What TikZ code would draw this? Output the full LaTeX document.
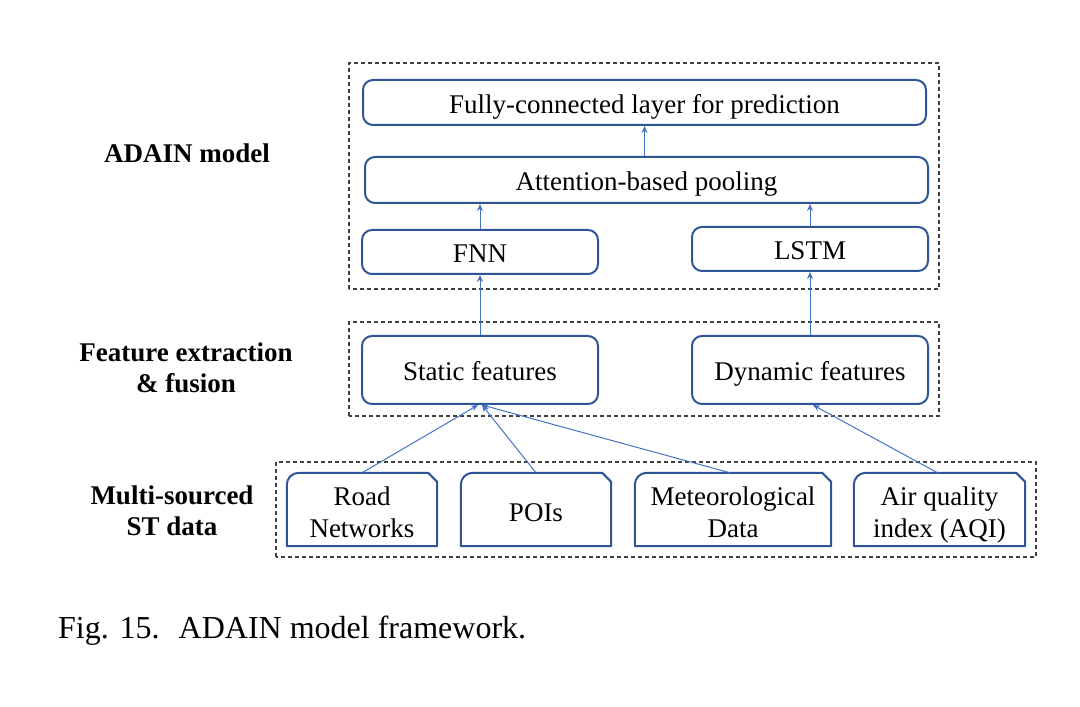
\documentclass[tikz,border=0pt]{standalone}
\usepackage{fontspec}
\setmainfont{Liberation Serif}
\usetikzlibrary{positioning,calc,arrows.meta}
\definecolor{boxblue}{RGB}{47,85,151}
\definecolor{arrblue}{RGB}{68,114,196}
\tikzset{blk/.style={draw=boxblue, line width=2pt, rounded corners=10pt, inner sep=2pt, text height=23pt, text depth=1.6pt, font=\fontsize{27}{31}\selectfont}}
\tikzset{datab/.style={inner sep=2pt, align=center, yshift=-3pt, text depth=0pt, font=\fontsize{27}{32}\selectfont}}
\tikzset{dataline/.style={draw=boxblue, line width=2pt, line join=round}}
\tikzset{frame/.style={draw=black!75, line width=1.1pt, dash pattern=on 4pt off 3pt}}
\tikzset{lab/.style={align=center, font=\bfseries\fontsize{27}{31}\selectfont}}
\tikzset{arr/.style={draw=arrblue, line width=1pt, -{Stealth[length=7pt,width=6pt]}}}
\begin{document}
\begin{tikzpicture}[x=1pt,y=1pt]
\useasboundingbox (0,0) rectangle (1080,707);
\draw[frame] (349,418) rectangle (939,644);
\draw[frame] (349,291) rectangle (939,385);
\draw[frame] (276,150) rectangle (1036,245);
\node[blk, minimum width=563pt, minimum height=45pt] (fc) at (644.5,604.5) {Fully-connected layer for prediction};
\node[blk, minimum width=563pt, minimum height=46pt] (att) at (646.5,527) {Attention-based pooling};
\node[blk, minimum width=236pt, minimum height=44pt] (fnn) at (480,455) {FNN};
\node[blk, minimum width=236pt, minimum height=44pt] (lstm) at (810,458) {LSTM};
\node[blk, minimum width=236pt, minimum height=68pt] (static) at (480,337) {Static features};
\node[blk, minimum width=236pt, minimum height=68pt] (dyn) at (810,337) {Dynamic features};
\node[datab, minimum width=150pt, minimum height=73pt] (road) at (362,197.5) {Road\\Networks};
\node[datab, minimum width=150pt, minimum height=73pt] (poi) at (536,197.5) {POIs};
\node[datab, minimum width=196pt, minimum height=73pt] (met) at (733,197.5) {Meteorological\\Data};
\node[datab, minimum width=171pt, minimum height=73pt] (aqi) at (939.5,197.5) {Air quality\\index (AQI)};
\foreach \n in {road,poi,met,aqi}
  \draw[dataline] ([yshift=3pt]\n.south west) -- ([yshift=-9pt]\n.north west)
    arc[start angle=180, end angle=90, radius=12pt]
    -- ([xshift=-9pt,yshift=3pt]\n.north east) -- ([yshift=-6pt]\n.north east)
    -- ([yshift=3pt]\n.south east) -- cycle;
\node[lab] (lmodel) at (187,554) {ADAIN model};
\node[lab] (lfeat) at (186,339.5) {Feature extraction\\\& fusion};
\node[lab] (ldata) at (172,196.5) {Multi-sourced\\ST data};
\node[anchor=base west, inner sep=0pt, font=\fontsize{32}{36}\selectfont] (cap) at (58,68) {Fig. 15.\hspace{0.6em}ADAIN model framework.};
\draw[arr] (fc.south |- att.north) -- (fc.south);
\draw[arr] (fnn.north) -- (fnn.north |- att.south);
\draw[arr] (lstm.north) -- (lstm.north |- att.south);
\draw[arr] (static.north) -- (fnn.south);
\draw[arr] (dyn.north) -- (lstm.south);
\draw[arr] ([yshift=3pt]road.north) -- ([xshift=-2pt]static.south);
\draw[arr] ([yshift=3pt]poi.north) -- ([xshift=2pt]static.south);
\draw[arr] ([xshift=-3pt,yshift=3pt]met.north) -- ([xshift=2pt]static.south);
\draw[arr] ([xshift=-2pt,yshift=3pt]aqi.north) -- ([xshift=3pt]dyn.south);
\end{tikzpicture}
\end{document}
